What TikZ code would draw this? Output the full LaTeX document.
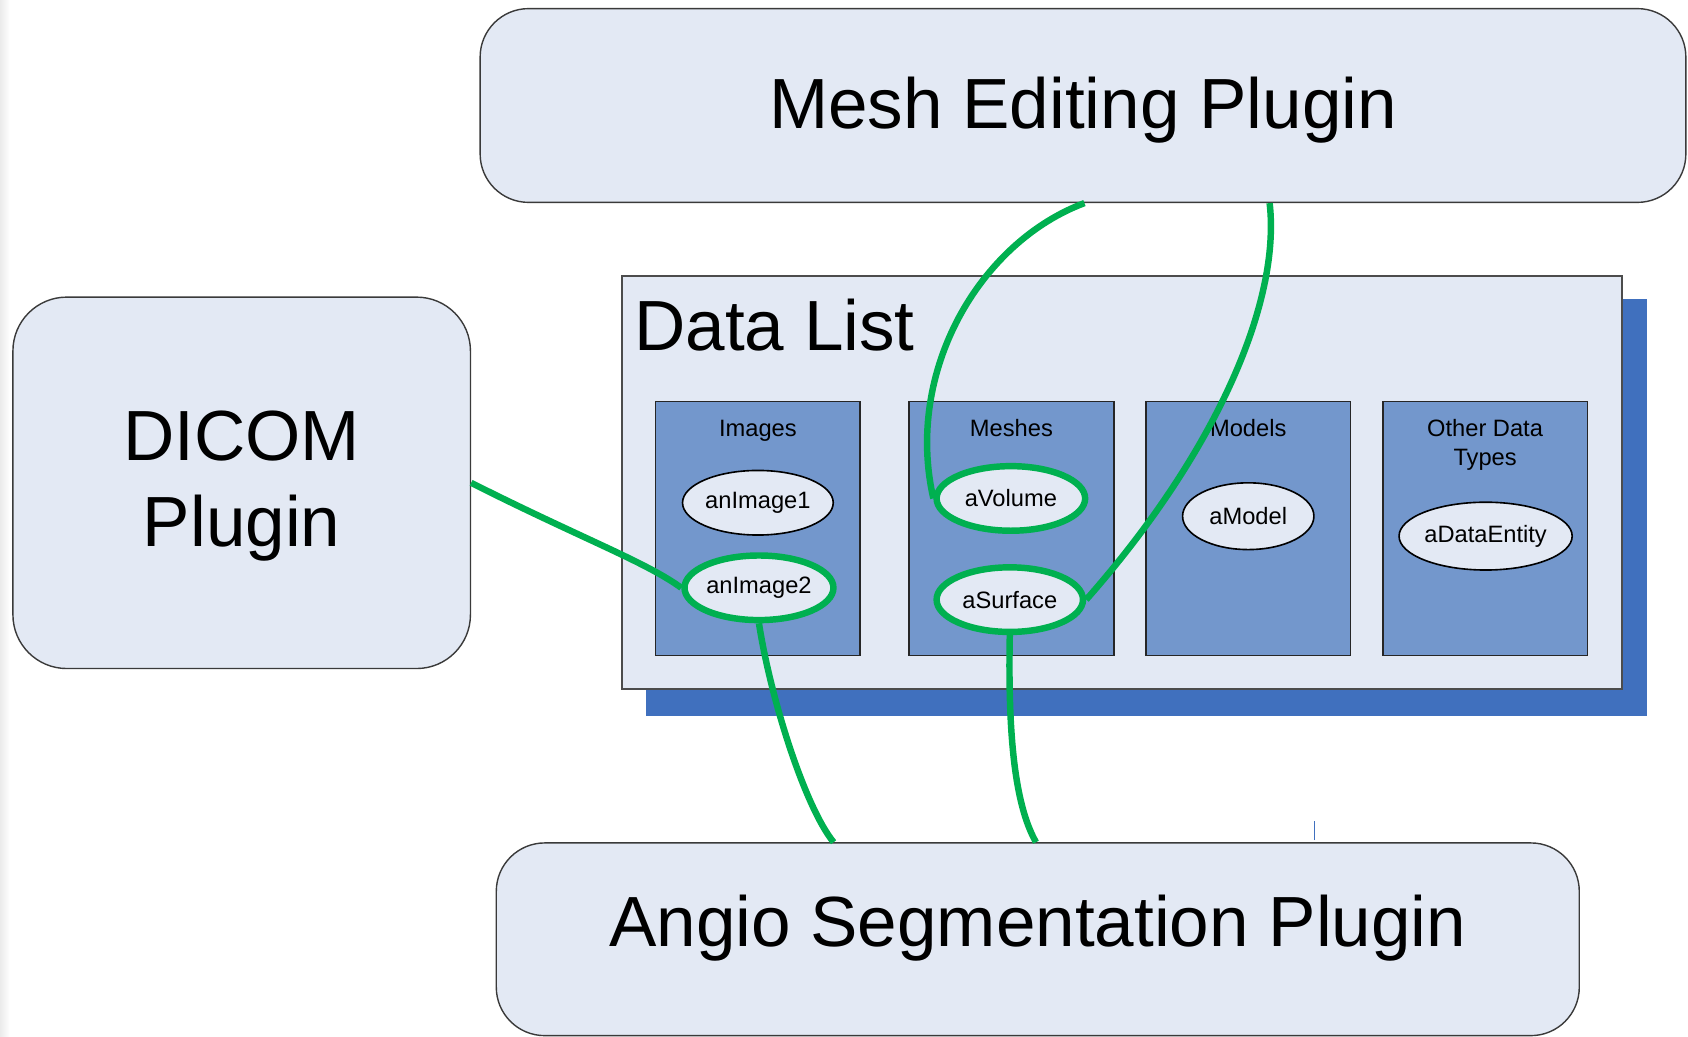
\documentclass[tikz,border=0pt]{standalone}
\usepackage{fontspec}
\setmainfont{Liberation Sans}
\usetikzlibrary{shapes.geometric,calc}

\definecolor{paleblue}{HTML}{E3E9F4}
\definecolor{colblue}{HTML}{7397CC}
\definecolor{shadowblue}{HTML}{4070BE}
\definecolor{linkgreen}{HTML}{00B050}
\definecolor{edgegray}{HTML}{3A3A3A}

\newcommand\pluginfont{\fontsize{66}{79}\selectfont}
\newcommand\tagfont{\fontsize{22}{27}\selectfont}

\begin{document}
\begin{tikzpicture}[x=1pt,y=-1pt,
  plugin/.style={draw=edgegray, line width=1.3pt, fill=paleblue,
                 rounded corners=#1, inner sep=0pt},
  datacol/.style={draw=black!85, line width=1.6pt, fill=colblue,
                  minimum width=190pt, minimum height=236pt, inner sep=0pt},
  item/.style={ellipse, draw=black, line width=1.5pt, fill=paleblue,
               inner sep=0pt, font=\tagfont},
  picked/.style={item, draw=linkgreen, line width=6pt},
  tag/.style={font=\tagfont, inner sep=0pt},
  title/.style={font=\pluginfont, inner sep=0pt},
  link/.style={draw=linkgreen, line width=6pt}]

% page
\fill[white] (0,0) rectangle (1568,963);
\useasboundingbox (0,0) rectangle (1568,963);
\shade[left color=black!8, right color=white] (0,0) rectangle (9,963);

% plugins
\node[plugin=45pt, minimum width=1120pt, minimum height=180pt] (mesh) at (1006,98) {};
\node[title, anchor=base] (meshlabel) at ($(mesh.center)+(0,21)$) {Mesh Editing Plugin};

\node[plugin=50pt, minimum width=425pt, minimum height=345pt] (dicom) at (224.5,448.5) {};
\node[title, align=center] (dicomlabel) at ($(dicom.center)+(0,3)$) {DICOM\\Plugin};

\node[plugin=45pt, minimum width=1006pt, minimum height=179pt] (angio) at (964,872.5) {};
\node[title, anchor=base] (angiolabel) at ($(angio.center)+(0,7)$) {Angio Segmentation Plugin};

% data list with its drop shadow
\node[fill=shadowblue, minimum width=930pt, minimum height=387pt, inner sep=0pt] (shadow) at (1065,471.5) {};
\node[draw=black!70, line width=2pt, fill=paleblue, minimum width=929pt,
      minimum height=384pt, inner sep=0pt] (datalist) at (1042.5,448) {};
\node[title, anchor=base west] (dltitle) at ($(datalist.north west)+(12,71)$) {Data List};

% data type columns
\node[datacol] (images) at (704,491) {};
\node[datacol] (meshes) at (939.5,491) {};
\node[datacol] (models) at (1159.5,491) {};
\node[datacol] (others) at (1379.5,491) {};

\node[tag, anchor=base] (imagestitle) at ($(images.north)+(0,33)$) {Images};
\node[tag, anchor=base] (meshestitle) at ($(meshes.north)+(0,33)$) {Meshes};
\node[tag, anchor=base] (modelstitle) at ($(models.north)+(0,33)$) {Models};
\node[tag, anchor=base] (otherstitle) at ($(others.north)+(0,33)$) {Other Data};
\node[tag, anchor=base] (otherstitleb) at ($(others.north)+(0,60)$) {Types};

% data entities
\node[item, minimum width=140pt, minimum height=60pt] (img1) at (704,467) {anImage1};
\node[picked, minimum width=138pt, minimum height=60pt] (img2) at (705,546) {anImage2};
\node[picked, minimum width=138pt, minimum height=60pt] (vol) at (939,463) {aVolume};
\node[picked, minimum width=136pt, minimum height=60pt] (surf) at (938,557) {aSurface};
\node[item, minimum width=122pt, minimum height=62pt] (model) at (1159.5,479.5) {aModel};
\node[item, minimum width=155pt, minimum height=63pt] (entity) at (1380,498) {aDataEntity};

% plugin to data links
\draw[link] (dicom.east) .. controls (540,500) and (600,522) .. (img2.west);
\draw[link] (img2.south) .. controls (716,650) and (748,750) .. ($(angio.north west)+(314,0)$);
\draw[link] (surf.south) .. controls (936,690) and (944,750) .. ($(angio.north west)+(502,0)$);
\draw[link] ($(mesh.south west)+(562,0)$) .. controls (910,225) and (840,345) .. (vol.west);
\draw[link] ($(mesh.south west)+(734,0)$) .. controls (1190,280) and (1130,420) .. (surf.east);

% small tick above the angio box
\draw[shadowblue, line width=1pt] ($(angio.north west)+(761,-2)$) -- ++(0,-18);
\end{tikzpicture}
\end{document}
